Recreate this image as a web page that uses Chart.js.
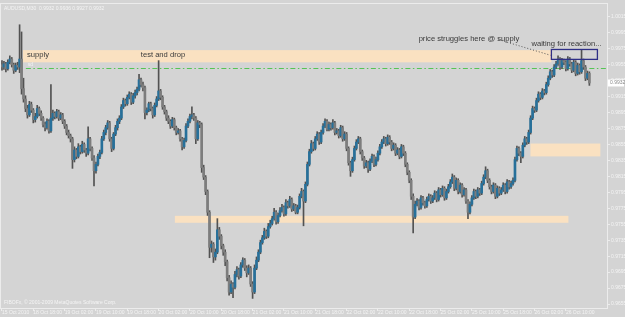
<!DOCTYPE html>
<html>
<head>
<meta charset="utf-8">
<script src="https://cdn.jsdelivr.net/npm/chart.js@4/dist/chart.umd.min.js"></script>
<style>
  html, body { margin: 0; padding: 0; background: #d4d4d4; }
  canvas { display: block; }
</style>
</head>
<body>
<canvas id="chart" width="625" height="317"></canvas>
<script>
// AUDUSD M30 candles, in pips above 0.9600: [open, high, low, close]
const candles = [
  [355,360,348,352],[352,359,349,356],[356,358,346,350],[350,361,348,358],[358,366,356,362],
  [362,364,352,355],[355,357,344,348],[348,357,346,354],[354,358,349,352],[352,405,345,362],
  [362,396,318,325],[325,338,308,312],[312,316,296,300],[300,304,288,292],[292,309,290,305],
  [305,308,295,298],[298,300,282,286],[286,294,283,290],[290,304,288,300],[300,302,291,294],
  [294,297,285,288],[288,290,277,280],[280,283,272,276],[276,287,274,284],[284,286,269,272],
  [272,330,270,288],[288,298,285,294],[294,296,287,290],[290,299,288,296],[296,298,285,288],
  [288,295,286,292],[292,294,281,284],[284,286,275,278],[278,280,267,270],[270,273,263,266],
  [266,268,258,262],[262,264,225,236],[236,252,233,248],[248,250,237,240],[240,256,238,252],
  [252,254,243,246],[246,259,244,255],[255,257,245,248],[248,250,240,244],[244,277,242,262],
  [262,264,247,250],[250,252,235,238],[238,241,203,222],[222,233,219,230],[230,243,228,240],
  [240,248,237,245],[245,265,243,262],[262,273,260,270],[270,279,267,276],[276,285,274,282],
  [282,284,259,262],[262,264,246,250],[250,270,248,268],[268,279,266,276],[276,287,273,284],
  [284,291,281,288],[288,305,286,302],[302,313,300,310],[310,312,303,306],[306,317,304,314],
  [314,321,312,318],[318,320,305,308],[308,319,306,316],[316,323,313,320],[320,327,317,324],
  [324,343,322,336],[336,338,327,330],[330,333,322,326],[326,328,287,295],[295,301,292,298],
  [298,308,296,306],[306,308,297,300],[300,302,288,292],[292,307,290,304],[304,315,302,312],
  [312,360,310,322],[322,324,311,314],[314,316,299,302],[302,304,293,296],[296,298,285,288],
  [288,291,281,284],[284,286,275,278],[278,289,276,286],[286,288,273,276],[276,278,267,270],
  [270,275,268,272],[272,274,259,262],[262,264,248,252],[252,263,250,260],[260,281,258,278],
  [278,287,276,284],[284,293,282,290],[290,302,287,292],[292,294,285,288],[288,290,256,262],
  [262,285,260,282],[282,284,276,280],[280,282,220,226],[226,229,211,214],[214,216,192,196],
  [196,198,166,170],[170,172,113,126],[126,134,120,130],[130,132,107,114],[114,124,110,120],
  [120,162,118,148],[148,151,136,140],[140,142,124,128],[128,130,116,120],[120,123,103,108],
  [108,110,84,88],[88,91,66,70],[70,84,68,80],[80,82,63,76],[76,96,74,92],
  [92,102,89,98],[98,100,86,90],[90,107,88,104],[104,113,101,110],[110,112,97,100],
  [100,103,89,94],[94,104,92,100],[100,102,77,80],[80,83,62,70],[70,104,68,100],
  [100,114,98,110],[110,123,108,120],[120,135,118,132],[132,141,130,138],[138,150,136,146],
  [146,148,137,140],[140,156,138,152],[152,160,150,156],[156,165,154,162],[162,175,160,170],
  [170,172,155,158],[158,169,156,166],[166,176,164,172],[172,180,170,176],[176,178,165,168],
  [168,186,166,182],[182,184,175,178],[178,190,176,186],[186,188,171,174],[174,181,172,178],
  [178,180,168,170],[170,179,168,176],[176,193,174,190],[190,200,188,196],[196,198,153,184],
  [184,208,182,205],[205,233,203,230],[230,249,228,246],[246,260,244,256],[256,258,247,250],
  [250,265,248,262],[262,271,260,268],[268,270,255,258],[258,273,256,270],[270,281,268,278],
  [278,287,276,284],[284,286,272,274],[274,283,272,280],[280,282,273,276],[276,286,274,282],
  [282,284,267,270],[270,275,268,272],[272,274,263,266],[266,279,264,276],[276,278,259,262],
  [262,271,260,268],[268,270,247,250],[250,252,229,232],[232,234,215,222],[222,239,220,236],
  [236,253,234,250],[250,261,248,258],[258,265,256,262],[262,264,243,246],[246,248,235,238],
  [238,240,225,228],[228,235,226,232],[232,234,220,224],[224,237,222,234],[234,243,232,240],
  [240,242,227,230],[230,239,228,236],[236,247,234,244],[244,255,242,252],[252,261,250,258],
  [258,265,256,262],[262,264,253,256],[256,267,254,264],[264,266,255,258],[258,260,247,250],
  [250,257,248,254],[254,256,241,244],[244,251,242,248],[248,250,237,240],[240,255,238,252],
  [252,254,241,244],[244,246,227,230],[230,232,217,220],[220,222,207,210],[210,212,186,190],
  [190,193,144,164],[164,184,162,180],[180,187,178,184],[184,186,173,176],[176,191,174,188],
  [188,190,179,182],[182,184,175,178],[178,189,176,186],[186,193,184,190],[190,192,181,184],
  [184,191,182,188],[188,197,186,194],[194,196,183,186],[186,201,184,198],[198,200,189,192],
  [192,203,190,200],[200,202,185,188],[188,199,186,196],[196,205,194,202],[202,211,200,208],
  [208,218,206,214],[214,216,197,200],[200,213,198,210],[210,212,193,196],[196,207,194,204],
  [204,206,189,192],[192,201,190,198],[198,200,181,184],[184,186,162,170],[170,183,168,180],
  [180,191,178,188],[188,199,186,196],[196,198,187,190],[190,201,188,198],[198,200,191,194],
  [194,209,192,206],[206,217,204,214],[214,227,212,222],[222,224,207,210],[210,212,199,202],
  [202,204,193,196],[196,207,194,204],[204,206,187,190],[190,203,188,200],[200,202,191,194],
  [194,201,192,198],[198,207,196,204],[204,206,193,196],[196,211,194,208],[208,210,199,202],
  [202,209,200,206],[206,213,204,210],[210,239,208,236],[236,253,234,250],[250,252,241,244],
  [244,246,232,240],[240,257,238,254],[254,265,252,262],[262,264,255,258],[258,273,256,270],
  [270,291,268,288],[288,303,286,300],[300,302,295,298],[298,313,296,310],[310,321,308,318],
  [318,320,311,314],[314,325,312,322],[322,324,317,320],[320,333,318,330],[330,341,328,338],
  [338,349,336,346],[346,348,339,342],[342,355,340,352],[352,359,350,356],[356,366,354,362],
  [362,364,349,352],[352,363,350,360],[360,362,355,358],[358,360,347,350],[350,365,348,362],
  [362,364,353,356],[356,358,345,348],[348,361,346,358],[358,360,341,344],[344,357,342,354],
  [354,356,343,346],[346,374,344,360],[360,362,349,352],[352,354,335,338],[338,347,336,344],
  [344,346,329,332]
];
const pipBase = 0.96;

// time axis labels, one every 16 bars
const timeLabels = ['15 Oct 2010','18 Oct 18:00','19 Oct 02:00','19 Oct 10:00','19 Oct 18:00',
  '20 Oct 02:00','20 Oct 10:00','20 Oct 18:00','21 Oct 02:00','21 Oct 10:00','21 Oct 18:00',
  '22 Oct 02:00','22 Oct 10:00','22 Oct 18:00','25 Oct 02:00','25 Oct 10:00','25 Oct 18:00',
  '26 Oct 02:00','26 Oct 10:00'];
const timeStep = 16;

// price axis labels
const priceTicks = [0.9655,0.9675,0.9695,0.9715,0.9735,0.9755,0.9775,0.9795,0.9815,0.9835,
  0.9855,0.9875,0.9895,0.9915,0.9935,0.9955,0.9975,0.9995,1.0015];

// drawn objects: [fromBar, toBar, priceTop, priceBottom]
const zones = [
  [10.7, 280.6, 0.99732, 0.99579],
  [269.9, 305.6, 0.98561, 0.98400],
  [88.3, 289.3, 0.97655, 0.97568]
];
const reactionBox = [280.6, 304.1, 0.99740, 0.99616];
const levelLine = [12.2, 0.99505];
const notes = [
  ['supply', 12.8, 0.99666],
  ['test and drop', 70.9, 0.99666],
  ['price struggles here @ supply', 212.8, 0.99877],
  ['waiting for reaction...', 270.4, 0.99815]
];
const pointer = [253.6, 0.99864, 280.2, 0.99667];
const lastPrice = 0.9932;
const headerText = 'AUDUSD,M30  0.9932 0.9936 0.9927 0.9932';
const footerText = 'FIBOFx, \u00a9 2001-2009 MetaQuotes Software Corp.';

const FONT = '"Liberation Sans", Arial, sans-serif';
const toPrice = p => pipBase + p / 10000;

const wickData = candles.map((c, i) => ({ x: i, y: [toPrice(c[2]), toPrice(c[1])] }));
const bodyData = candles.map((c, i) => ({ x: i, y: [toPrice(c[0]), toPrice(c[3])] }));
const bodyColors = candles.map(c => c[3] >= c[0] ? '#27709a' : '#7d7d7d');

const overlay = {
  id: 'overlay',
  beforeDatasetsDraw(chart) {
    const { ctx, chartArea: a, scales: { x, y } } = chart;
    ctx.save();
    ctx.beginPath();
    ctx.rect(a.left, a.top, a.right - a.left, a.bottom - a.top);
    ctx.clip();
    ctx.fillStyle = '#fae1c1';
    zones.forEach(z => {
      const x0 = x.getPixelForValue(z[0]), x1 = x.getPixelForValue(z[1]);
      const y0 = y.getPixelForValue(z[2]), y1 = y.getPixelForValue(z[3]);
      ctx.fillRect(x0, y0, x1 - x0, y1 - y0);
    });
    // dash-dot level
    ctx.strokeStyle = '#55c455';
    ctx.lineWidth = 1;
    ctx.setLineDash([5, 2.5, 1.5, 2.5]);
    const ly = Math.round(y.getPixelForValue(levelLine[1])) + 0.5;
    ctx.beginPath();
    ctx.moveTo(x.getPixelForValue(levelLine[0]), ly);
    ctx.lineTo(a.right, ly);
    ctx.stroke();
    ctx.setLineDash([]);
    ctx.fillStyle = '#f4f4f4';
    ctx.font = '5px ' + FONT;
    ctx.textBaseline = 'bottom';
    ctx.fillText('sd', x.getPixelForValue(levelLine[0]) + 2, ly - 1);
    ctx.restore();
  },
  afterDatasetsDraw(chart) {
    const { ctx, scales: { x, y } } = chart;
    ctx.save();
    // reaction box
    ctx.strokeStyle = '#2f2f86';
    ctx.lineWidth = 1.3;
    const bx0 = x.getPixelForValue(reactionBox[0]), bx1 = x.getPixelForValue(reactionBox[1]);
    const by0 = y.getPixelForValue(reactionBox[2]), by1 = y.getPixelForValue(reactionBox[3]);
    ctx.strokeRect(bx0, by0, bx1 - bx0, by1 - by0);
    // pointer from note to box
    ctx.strokeStyle = '#555555';
    ctx.lineWidth = 1;
    ctx.setLineDash([1, 2]);
    ctx.beginPath();
    ctx.moveTo(x.getPixelForValue(pointer[0]), y.getPixelForValue(pointer[1]));
    ctx.lineTo(x.getPixelForValue(pointer[2]), y.getPixelForValue(pointer[3]));
    ctx.stroke();
    ctx.setLineDash([]);
    // notes
    ctx.fillStyle = '#3a3a3a';
    ctx.font = '7.6px ' + FONT;
    ctx.textBaseline = 'middle';
    notes.forEach(n => ctx.fillText(n[0], x.getPixelForValue(n[1]), y.getPixelForValue(n[2])));
    ctx.restore();
  },
  afterDraw(chart) {
    const { ctx, chartArea: a, scales: { y } } = chart;
    ctx.save();
    ctx.strokeStyle = '#ececec';
    ctx.lineWidth = 1;
    ctx.strokeRect(a.left - 0.5, a.top - 0.5, a.right - a.left + 1, a.bottom - a.top + 1);
    // current price marker
    const py = y.getPixelForValue(lastPrice);
    ctx.fillStyle = '#ffffff';
    ctx.fillRect(a.right + 1, py - 3.5, 16, 7);
    ctx.fillStyle = '#8a8a8a';
    ctx.font = '5px ' + FONT;
    ctx.textBaseline = 'middle';
    ctx.fillText(lastPrice.toFixed(4), a.right + 3, py);
    // header and footer
    ctx.fillStyle = '#f4f4f4';
    ctx.fillText(headerText, a.left + 3, a.top + 5);
    ctx.fillText(footerText, a.left + 3, a.bottom - 5);
    ctx.restore();
  }
};

new Chart(document.getElementById('chart'), {
  type: 'bar',
  data: {
    datasets: [
      { data: wickData, backgroundColor: '#525252', barThickness: 1, grouped: false, order: 2 },
      { data: bodyData, backgroundColor: bodyColors, barThickness: 2, minBarLength: 1, grouped: false, order: 1 }
    ]
  },
  options: {
    responsive: false,
    animation: false,
    layout: { padding: { left: 1, top: 1 } },
    plugins: { legend: { display: false }, tooltip: { enabled: false } },
    scales: {
      x: {
        type: 'linear',
        min: -0.5,
        max: 309,
        offset: false,
        grid: { drawOnChartArea: false, offset: false, tickLength: 3, color: '#ececec' },
        border: { color: '#ececec' },
        afterBuildTicks: ax => { ax.ticks = timeLabels.map((t, k) => ({ value: k * timeStep })); },
        afterFit: ax => { ax.height = 9; },
        ticks: {
          autoSkip: false, maxRotation: 0, align: 'start', padding: -1,
          color: '#f4f4f4', font: { size: 5, family: FONT },
          callback: v => timeLabels[Math.round(v / timeStep)] || ''
        }
      },
      y: {
        position: 'right',
        min: 0.9650,
        max: 1.0031,
        grid: { drawOnChartArea: false, tickLength: 3, color: '#ececec' },
        border: { color: '#ececec' },
        afterBuildTicks: ax => { ax.ticks = priceTicks.map(v => ({ value: v })); },
        afterFit: ax => { ax.width = 18; },
        ticks: {
          padding: 1, color: '#f4f4f4', font: { size: 5, family: FONT },
          callback: v => v.toFixed(4)
        }
      }
    }
  },
  plugins: [overlay]
});
</script>
</body>
</html>
